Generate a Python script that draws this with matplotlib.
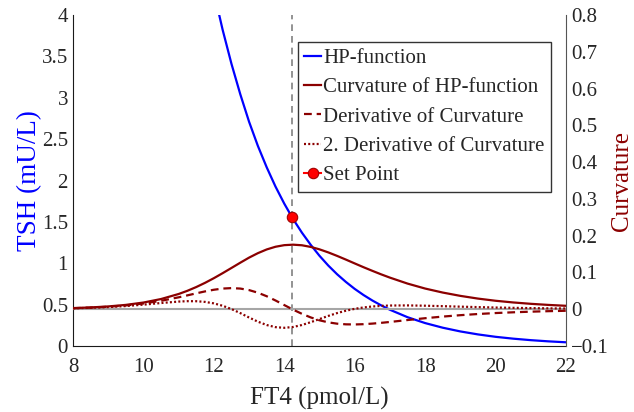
import matplotlib
matplotlib.use("Agg")
import matplotlib.pyplot as plt

# FT4 sample positions (pmol/L), denser where the curves bend most
ft4 = [8.0, 8.5, 9.0, 9.5, 10.0, 10.5, 11.0,
       11.25, 11.5, 11.75, 12.0, 12.25, 12.5, 12.75, 13.0, 13.25, 13.5,
       13.75, 14.0, 14.25, 14.5, 14.75, 15.0, 15.25, 15.5, 15.75, 16.0,
       16.25, 16.5, 16.75, 17.0,
       17.5, 18.0, 18.5, 19.0, 19.5, 20.0, 20.5, 21.0, 21.5, 22.0]

# HP-function: TSH (mU/L)
tsh = [26.5, 21.1, 16.8, 13.37, 10.65, 8.48, 6.75,
       6.023, 5.37, 4.794, 4.28, 3.820, 3.41, 3.043, 2.71, 2.418, 2.16,
       1.927, 1.72, 1.534, 1.37, 1.223, 1.09, 0.972, 0.867, 0.774, 0.690,
       0.616, 0.550, 0.491, 0.438,
       0.348, 0.277, 0.221, 0.176, 0.140, 0.111, 0.0887, 0.0706, 0.0562,
       0.0448]

# Curvature of the HP-function
curvature = [0.00309, 0.00484, 0.00757, 0.01178, 0.01817, 0.0277, 0.0414,
             0.05016, 0.0603, 0.07176, 0.0844, 0.09804, 0.1122, 0.12646,
             0.1403, 0.15242, 0.1625, 0.16984, 0.1742, 0.1755, 0.1739,
             0.16941, 0.1628, 0.15447, 0.1450, 0.13492, 0.1245, 0.11424,
             0.1044, 0.09484, 0.0859,
             0.0697, 0.0562, 0.0453, 0.0363, 0.0289, 0.0230, 0.0184, 0.0147,
             0.0117, 0.0093]

# First derivative of the curvature
d_curvature = [0.00279, 0.00435, 0.00673, 0.01032, 0.01555, 0.02287, 0.03236,
               0.03771, 0.0432, 0.04845, 0.05295, 0.05616, 0.0574, 0.05618,
               0.0520, 0.04492, 0.03534, 0.02381, 0.01128, -0.00115,
               -0.01246, -0.02227, -0.0301, -0.03571, -0.0393, -0.04109,
               -0.04143, -0.04067, -0.03913, -0.03705, -0.03465,
               -0.02941, -0.02443, -0.02002, -0.01621, -0.01302, -0.0104,
               -0.00835, -0.00666, -0.00531, -0.00424]

# Second derivative of the curvature
d2_curvature = [0.00249, 0.00384, 0.00583, 0.00867, 0.01244, 0.01686, 0.02082,
                0.02189, 0.02176, 0.01991, 0.0159, 0.00936, 0.00042,
                -0.01053, -0.02255, -0.03385, -0.04295, -0.04876, -0.05053,
                -0.0483, -0.04291, -0.03532, -0.02668, -0.0182, -0.0105,
                -0.00405, 0.00106, 0.00484, 0.00743, 0.00911, 0.01003,
                0.01035, 0.00953, 0.00829, 0.00697, 0.00572, 0.00463,
                0.00375, 0.00301, 0.00241, 0.00193]

set_point_ft4 = 14.22
set_point_tsh = 1.555

x_ticks = [8, 10, 12, 14, 16, 18, 20, 22]
tsh_ticks = [0, 0.5, 1, 1.5, 2, 2.5, 3, 3.5, 4]
tsh_tick_labels = ["0", "0.5", "1", "1.5", "2", "2.5", "3", "3.5", "4"]
curv_ticks = [-0.1, 0, 0.1, 0.2, 0.3, 0.4, 0.5, 0.6, 0.7, 0.8]
curv_tick_labels = ["\u22120.1", "0", "0.1", "0.2", "0.3", "0.4", "0.5",
                    "0.6", "0.7", "0.8"]

labels = ["HP-function", "Curvature of HP-function", "Derivative of Curvature",
          "2. Derivative of Curvature", "Set Point"]

plt.rcParams['font.family'] = ['Liberation Serif', 'DejaVu Serif']

BLUE = "#0000ff"
DARKRED = "#8b0000"
TXT = "#262626"

fig = plt.figure(figsize=(6.34, 4.12), dpi=100)
ax = fig.add_axes([73 / 634, 66 / 412, 493 / 634, 331 / 412])
ax2 = ax.twinx()

# left axis: TSH
ax.axvline(set_point_ft4, color="#808080", lw=1.2, ls=(0, (4, 3)), zorder=1)
h_hp, = ax.plot(ft4, tsh, color=BLUE, lw=1.6, zorder=3)
h_sp, = ax.plot([set_point_ft4], [set_point_tsh], ls="-", color="#ff0000",
                marker="o", ms=7.5, mfc="#ff0000", mec="#a00000", mew=0.8,
                zorder=5)
ax.set_xlim(8, 22)
ax.set_ylim(0, 4)
ax.set_xticks(x_ticks)
ax.set_xticklabels([str(t) for t in x_ticks])
ax.set_yticks(tsh_ticks)
ax.set_yticklabels(tsh_tick_labels)

# right axis: curvature
ax2.axhline(0, color="#a6a6a6", lw=1.5, zorder=1)
h_k, = ax2.plot(ft4, curvature, color=DARKRED, lw=1.6, zorder=3)
h_dk, = ax2.plot(ft4, d_curvature, color=DARKRED, lw=1.6,
                 ls=(0, (3.5, 2.2)), zorder=3)
h_d2k, = ax2.plot(ft4, d2_curvature, color=DARKRED, lw=1.6,
                  ls=(0, (0.9, 1.0)), zorder=3)
ax2.set_ylim(-0.1, 0.8)
ax2.set_yticks(curv_ticks)
ax2.set_yticklabels(curv_tick_labels)

# spines
for a in (ax, ax2):
    a.spines["top"].set_visible(False)
ax.spines["right"].set_visible(False)
ax2.spines["left"].set_visible(False)
ax2.spines["bottom"].set_visible(False)
ax.spines["left"].set_color("#1a1a1a")
ax.spines["bottom"].set_color("#1a1a1a")
ax2.spines["right"].set_color("#555555")

ax.tick_params(axis="both", length=0, labelsize=15, labelcolor=TXT)
ax.tick_params(axis="x", pad=8.5)
ax.tick_params(axis="y", pad=3.6)
ax2.tick_params(axis="y", length=0, labelsize=15, labelcolor=TXT, pad=3.6)

ax.set_xlabel("FT4 (pmol/L)", fontsize=18, color=TXT, labelpad=7.5)
ax.set_ylabel("TSH (mU/L)", fontsize=19.5, color=BLUE, labelpad=0)
ax2.set_ylabel("Curvature", fontsize=18, color=DARKRED, labelpad=1.5)

leg = ax2.legend([h_hp, h_k, h_dk, h_d2k, h_sp], labels,
                 loc="upper left", bbox_to_anchor=(298 / 634, 1 - 42 / 412),
                 bbox_transform=fig.transFigure, borderaxespad=0,
                 fontsize=15, frameon=True, fancybox=False,
                 edgecolor="#333333", framealpha=1, handlelength=0.8,
                 handletextpad=0.1, labelspacing=0.47, borderpad=0.3)
leg.get_frame().set_linewidth(1.0)
for t in leg.get_texts():
    t.set_color(TXT)

fig.savefig("out.png", dpi=100)
